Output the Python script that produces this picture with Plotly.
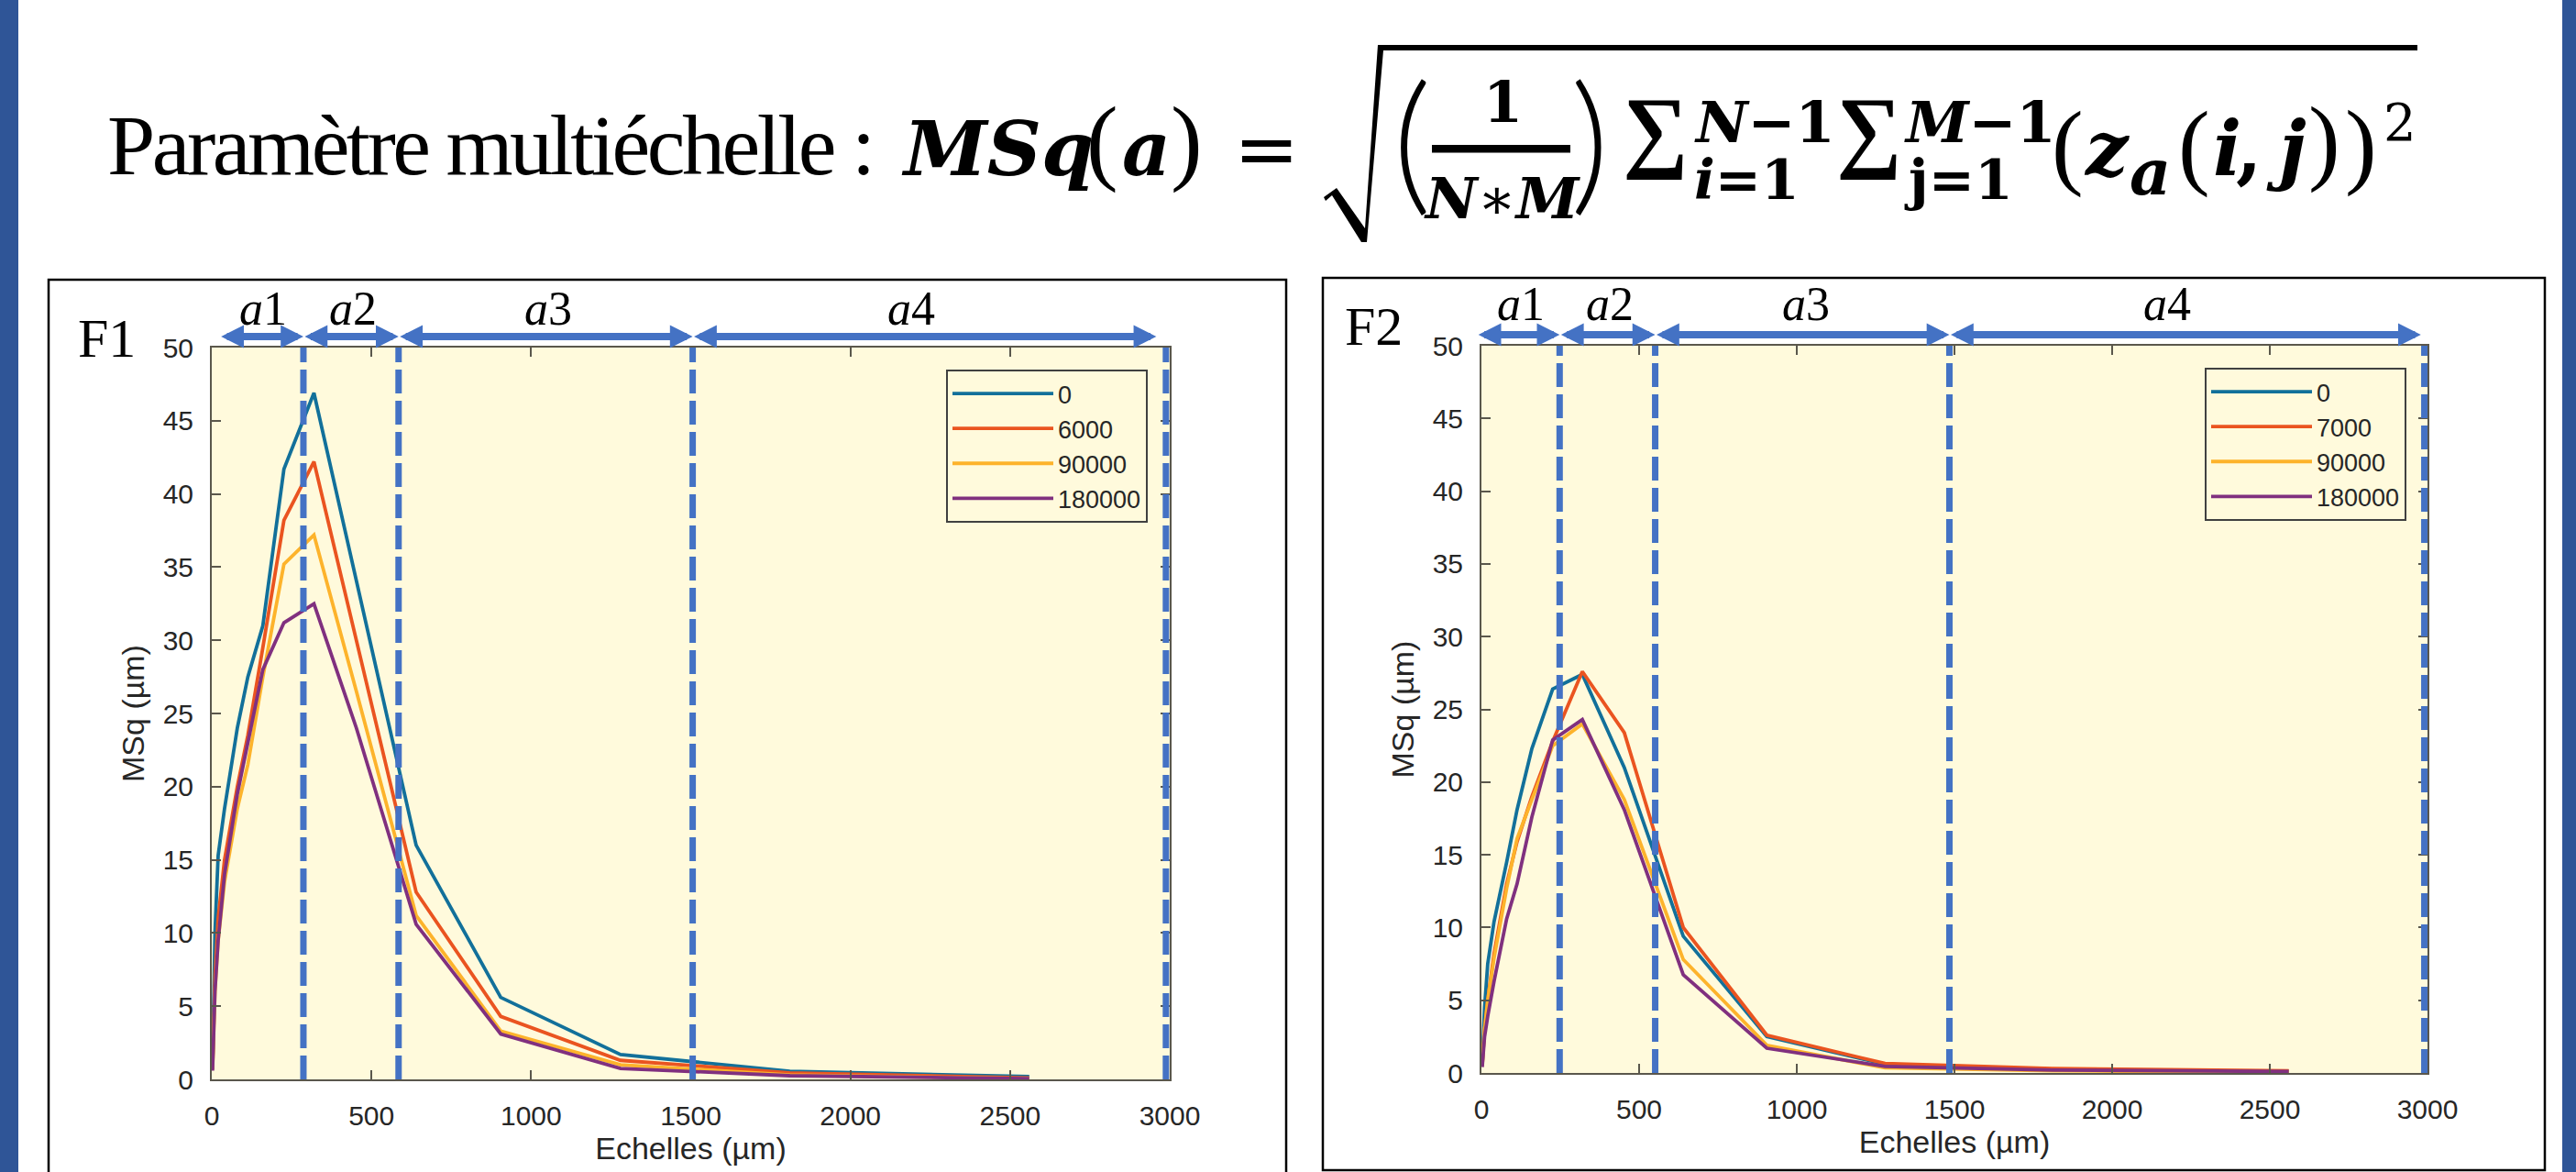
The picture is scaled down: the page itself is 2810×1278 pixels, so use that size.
import plotly.graph_objects as go

W, H = 2810, 1278

# ---------------- data ----------------
scales = [2.5, 10, 20, 40, 80, 113, 160, 226, 320, 453, 640, 905, 1280, 1810, 2560]

f1_labels = ["0", "6000", "90000", "180000"]
f1_c0 = [0.8, 10.0, 15.3, 18.5, 24.0, 27.5, 31.0, 41.7, 46.9, 34.0, 16.0, 5.6, 1.7, 0.55, 0.2]
f1_c1 = [0.7, 7.0, 11.0, 15.0, 20.0, 23.5, 29.5, 38.2, 42.2, 30.0, 12.8, 4.3, 1.3, 0.45, 0.1]
f1_c2 = [0.7, 6.0, 9.5, 13.5, 18.5, 21.5, 27.5, 35.2, 37.2, 26.5, 11.2, 3.3, 1.0, 0.3, 0.05]
f1_c3 = [0.6, 6.0, 9.5, 14.0, 19.5, 23.0, 28.0, 31.2, 32.5, 24.0, 10.6, 3.1, 0.75, 0.25, 0.05]

f2_labels = ["0", "7000", "90000", "180000"]
f2_c0 = [0.5, 4.5, 7.5, 10.4, 14.5, 18.1, 22.3, 26.4, 27.4, 21.0, 9.4, 2.5, 0.6, 0.2, 0.1]
f2_c1 = [0.5, 3.0, 5.0, 8.2, 13.0, 15.9, 19.0, 22.8, 27.6, 23.4, 10.0, 2.6, 0.65, 0.3, 0.15]
f2_c2 = [0.5, 3.0, 5.0, 7.9, 12.7, 16.1, 18.8, 22.5, 24.0, 18.8, 7.8, 1.9, 0.35, 0.15, 0.05]
f2_c3 = [0.4, 2.5, 3.9, 6.3, 10.6, 13.0, 17.6, 22.9, 24.3, 18.1, 6.75, 1.7, 0.45, 0.2, 0.1]

series_colors = ["#12709A", "#EA5420", "#FDB32B", "#80307F"]

x_tickvals = [0, 500, 1000, 1500, 2000, 2500, 3000]
y_tickvals = [0, 5, 10, 15, 20, 25, 30, 35, 40, 45, 50]
x_range = [0, 3000]
y_range = [0, 50]

f1_bounds = [287, 585, 1506, 2988]
f2_bounds = [248, 551, 1484, 2990]
f1_arrow_from = [25, 287, 585, 1506]
f1_arrow_to = [287, 585, 1506, 2958]
f2_arrow_from = [-14, 248, 551, 1484]
f2_arrow_to = [248, 551, 1484, 2979]
region_nums = ["1", "2", "3", "4"]
f1_name_x = [161, 442, 1054, 2191]
f2_name_x = [125, 407, 1029, 2174]
panel_names = ["F1", "F2"]

# ---------------- styling ----------------
BG = "#FFFADC"
DASH = "#4472C4"
AX = "#5a574c"
TXT = "#262626"
SERIF = "Liberation Serif"
MATH = "DejaVu Serif"


def px(x):
    return x / W


def py(y):
    return 1 - y / H


fig = go.Figure()
for name, ys, col in zip(f1_labels, [f1_c0, f1_c1, f1_c2, f1_c3], series_colors):
    fig.add_trace(go.Scatter(x=scales, y=ys, name=name, mode="lines",
                             line=dict(color=col, width=3.8),
                             xaxis="x", yaxis="y", legend="legend"))
for name, ys, col in zip(f2_labels, [f2_c0, f2_c1, f2_c2, f2_c3], series_colors):
    fig.add_trace(go.Scatter(x=scales, y=ys, name=name, mode="lines",
                             line=dict(color=col, width=3.8),
                             xaxis="x2", yaxis="y2", legend="legend2"))
# empty trace for the full-page overlay axes (used for the formula)
fig.add_trace(go.Scatter(x=[], y=[], xaxis="x3", yaxis="y3", showlegend=False, hoverinfo="skip"))

axis_common = dict(showgrid=False, zeroline=False, showline=True, linecolor=AX, linewidth=2,
                   mirror="ticks", ticks="inside", ticklen=10, tickwidth=2, tickcolor=AX,
                   automargin=False,
                   tickfont=dict(family="Arial", size=30, color=TXT))
xtitle = dict(text="Echelles (µm)", font=dict(family="Arial", size=34, color=TXT), standoff=8)
ytitle = dict(text="MSq (µm)", font=dict(family="Arial", size=34, color=TXT), standoff=10)

legend_common = dict(xanchor="right", yanchor="top", bgcolor=BG, bordercolor="#404040",
                     borderwidth=2, font=dict(family="Arial", size=27, color=TXT),
                     itemwidth=110, tracegroupgap=0)

fig.update_layout(
    width=W, height=H, margin=dict(l=0, r=0, t=0, b=0, pad=0, autoexpand=False),
    paper_bgcolor="white", plot_bgcolor="rgba(0,0,0,0)",
    xaxis=dict(domain=[px(231), px(1276)], anchor="y", range=x_range, tickvals=x_tickvals,
               title=xtitle, ticklabelstandoff=12, **axis_common),
    yaxis=dict(domain=[py(1177), py(379)], anchor="x", range=y_range, tickvals=y_tickvals,
               title=ytitle, ticklabelstandoff=12, **axis_common),
    xaxis2=dict(domain=[px(1616), px(2648)], anchor="y2", range=x_range, tickvals=x_tickvals,
                title=xtitle, ticklabelstandoff=12, **axis_common),
    yaxis2=dict(domain=[py(1170), py(377)], anchor="x2", range=y_range, tickvals=y_tickvals,
                title=ytitle, ticklabelstandoff=12, **axis_common),
    xaxis3=dict(domain=[0, 1], range=[0, W], visible=False, anchor="y3", fixedrange=True,
                automargin=False),
    yaxis3=dict(domain=[0, 1], range=[H, 0], visible=False, anchor="x3", fixedrange=True,
                automargin=False),
    legend=dict(x=px(1252), y=py(403), **legend_common),
    legend2=dict(x=px(2625), y=py(401), **legend_common),
)

shapes = []
# plot backgrounds
for xr, yr in [("x domain", "y domain"), ("x2 domain", "y2 domain")]:
    shapes.append(dict(type="rect", xref=xr, yref=yr, x0=0, x1=1, y0=0, y1=1,
                       fillcolor=BG, line=dict(width=0), layer="below"))
# dashed boundaries
for xa, ya, bounds in [("x", "y", f1_bounds), ("x2", "y2", f2_bounds)]:
    for b in bounds:
        shapes.append(dict(type="line", xref=xa, yref=ya, x0=b, x1=b, y0=y_range[0], y1=y_range[1],
                           line=dict(color=DASH, width=7, dash="26px,8px"), layer="above"))
# panel frames and side stripes
shapes.append(dict(type="rect", xref="x3", yref="y3", x0=53, x1=1403, y0=305, y1=1300,
                   line=dict(color="black", width=2.5), fillcolor="rgba(0,0,0,0)", layer="below"))
shapes.append(dict(type="rect", xref="x3", yref="y3", x0=1443, x1=2776, y0=303, y1=1276,
                   line=dict(color="black", width=2.5), fillcolor="rgba(0,0,0,0)", layer="below"))
shapes.append(dict(type="rect", xref="x3", yref="y3", x0=0, x1=20, y0=0, y1=H,
                   line=dict(width=0), fillcolor="#2F5597"))
shapes.append(dict(type="rect", xref="x3", yref="y3", x0=2795, x1=W, y0=0, y1=H,
                   line=dict(width=0), fillcolor="#2F5597"))
# radical sign with vinculum
rad = [(1444, 215), (1458, 205), (1489, 249), (1503, 49), (2637, 49), (2637, 55),
       (1509, 55), (1491, 264), (1485, 264), (1453, 213), (1446, 219)]
shapes.append(dict(type="path", xref="x3", yref="y3",
                   path="M" + " L".join(f"{a},{b}" for a, b in rad) + " Z",
                   fillcolor="black", line=dict(width=0)))
# fraction bar
shapes.append(dict(type="rect", xref="x3", yref="y3", x0=1562, x1=1713, y0=158, y1=166.5,
                   fillcolor="black", line=dict(width=0)))
fig.update_layout(shapes=shapes)

ann = []
# region arrows + labels
for xa, frms, tos, ypix, namex, ylab in [("x", f1_arrow_from, f1_arrow_to, 367, f1_name_x, 336),
                                          ("x2", f2_arrow_from, f2_arrow_to, 365, f2_name_x, 332)]:
    for a, b in zip(frms, tos):
        ann.append(dict(x=b, y=py(ypix), xref=xa, yref="paper", ax=a, ay=0, axref=xa, ayref="pixel",
                        showarrow=True, arrowhead=2, startarrowhead=2, arrowside="end+start",
                        arrowsize=0.62, startarrowsize=0.62, arrowwidth=8, arrowcolor=DASH,
                        text="", standoff=0, startstandoff=0))
    for n, lx in zip(region_nums, namex):
        ann.append(dict(x=lx, y=py(ylab), xref=xa, yref="paper", showarrow=False,
                        text=f"<i>a</i>{n}", xanchor="center", yanchor="middle",
                        font=dict(family=SERIF, size=52, color="black")))


def T(text, x, yc, size, anchor="left", family=SERIF, weight=None):
    f = dict(family=family, size=size, color="black")
    if weight is not None:
        f["weight"] = weight
    return dict(xref="x3", yref="y3", x=x, y=yc, text=text, showarrow=False,
                xanchor=anchor, yanchor="middle", borderpad=0, borderwidth=0, font=f)


ann.append(T(panel_names[0], 85, 368.75, 60))
ann.append(T(panel_names[1], 1467, 355.75, 60))

# formula
ann += [
    T('<span style="letter-spacing:-3.5px">Paramètre multiéchelle :</span>', 117, 158.3, 94),
    T("<b><i>MSq</i></b>", 983, 161.6, 82, "left", MATH),
    T("(", 1202.5, 153.4, 104, "center"),
    T("<b><i>a</i></b>", 1250, 161.6, 82, "center", MATH),
    T(")", 1294, 153.4, 104, "center"),
    T("=", 1381, 162.6, 85, "center", "DejaVu Sans"),
    T("(", 1540.5, 148.5, 165, "center", "Lato", 300),
    T("<b>1</b>", 1639, 111.5, 62, "center", MATH),
    T("<b><i>N</i></b>∗<b><i>M</i></b>", 1638.5, 216.5, 62, "center", MATH),
    T(")", 1734.5, 148.5, 165, "center", "Lato", 300),
    T("<b>∑</b>", 1805.5, 141, 100, "center"),
    T("<b><i>N</i>−1</b>", 1848, 133.5, 62, "left", MATH),
    T("<b><i>i</i>=1</b>", 1848, 196.2, 60, "left", MATH),
    T("<b>∑</b>", 2038.5, 141, 100, "center"),
    T("<b><i>M</i>−1</b>", 2077, 133.5, 62, "left", MATH),
    T("<b>j=1</b>", 2077, 196.2, 60, "left", MATH),
    T("(", 2255, 157.9, 104, "center"),
    T("<b><i>z</i></b>", 2297.5, 161.6, 82, "center", MATH),
    T("<b><i>a</i></b>", 2345, 187.8, 70, "center", MATH),
    T("(", 2393, 158.4, 104, "center"),
    T("<b><i>i</i></b>", 2429, 161.6, 82, "center", MATH),
    T("<b>,</b>", 2453, 161.6, 82, "center", MATH),
    T("<b><i>j</i></b>", 2494, 161.6, 82, "center", MATH),
    T(")", 2535, 153.4, 104, "center"),
    T(")", 2575, 157.4, 104, "center"),
    T("2", 2617.5, 133.6, 56, "center", MATH),
]
fig.update_layout(annotations=ann)

fig.write_html("out.html",
               config={"displayModeBar": False},
               post_script="document.body.style.margin='0px';"
                           "document.documentElement.style.overflow='hidden';")
